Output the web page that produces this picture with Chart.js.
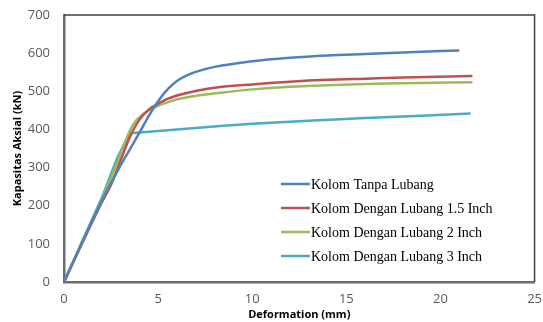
<!DOCTYPE html>
<html>
<head>
<meta charset="utf-8">
<script src="https://cdn.jsdelivr.net/npm/chart.js@4/dist/chart.umd.min.js"></script>
<style>
  html, body { margin: 0; padding: 0; background: #fff; }
  #wrap { width: 543px; height: 322px; }
</style>
</head>
<body>
<div id="wrap"><canvas id="chart" width="543" height="322"></canvas></div>
<script>
// Deformation (mm) and axial capacity (kN)
const seriesNames = ['Kolom Tanpa Lubang', 'Kolom Dengan Lubang 1.5 Inch', 'Kolom Dengan Lubang 2 Inch', 'Kolom Dengan Lubang 3 Inch'];
const colors = ['#4F81BD', '#C0504D', '#9BBB59', '#4BACC6'];

const tanpaX = [0, 1, 2, 3, 3.5, 4, 4.5, 5, 5.5, 6, 6.5, 7, 8, 10, 12, 14, 16, 18, 21];
const tanpaY = [0, 108, 212, 305, 348, 391, 435, 474, 505, 527, 541, 551, 564, 579, 588, 594, 598, 602, 607];

const lubang15X = [0, 1, 2, 2.5, 3, 3.5, 4, 4.5, 5, 5.5, 6, 7, 8.3, 10, 12, 14, 16, 18, 21.7];
const lubang15Y = [0, 105, 208, 255, 318, 380, 425, 452, 467, 480, 489, 501, 511, 518, 525, 530, 533, 536, 540];

const lubang2X = [0, 1, 2, 3, 3.2, 3.7, 4.2, 4.5, 5, 5.5, 6, 7, 8.3, 10, 12, 14, 16, 18, 21.7];
const lubang2Y = [0, 110, 215, 335, 362, 415, 440, 450, 462, 471, 479, 488, 496, 505, 512, 516, 519, 521, 524];

const lubang3X = [0, 1, 2, 2.8, 3.2, 3.55, 5, 8.3, 10, 13, 16, 19, 21.6];
const lubang3Y = [0, 110, 220, 322, 362, 390, 396, 409, 415, 423, 430, 436, 442];

const xTicks = [0, 5, 10, 15, 20, 25];
const yTicks = [0, 100, 200, 300, 400, 500, 600, 700];

const allX = [tanpaX, lubang15X, lubang2X, lubang3X];
const allY = [tanpaY, lubang15Y, lubang2Y, lubang3Y];

const datasets = seriesNames.map((name, i) => ({
  label: name,
  data: allX[i].map((x, j) => ({ x: x, y: allY[i][j] })),
  borderColor: colors[i],
  backgroundColor: colors[i],
  borderWidth: 2.5,
  pointRadius: 0,
  showLine: true,
  // the 3 inch column has a sharp knee, the others bend smoothly
  cubicInterpolationMode: i === 3 ? 'default' : 'monotone',
  tension: 0,
  fill: false
}));

// box around the plot area (top and right edges)
const boxPlugin = {
  id: 'box',
  afterDraw(chart) {
    const { ctx, chartArea: a } = chart;
    ctx.save();
    ctx.strokeStyle = '#404040';
    ctx.lineWidth = 1.5;
    ctx.beginPath();
    ctx.moveTo(a.left, a.top);
    ctx.lineTo(a.right, a.top);
    ctx.lineTo(a.right, a.bottom);
    ctx.stroke();
    ctx.restore();
  }
};

// legend drawn inside the plot area
const innerLegend = {
  id: 'innerLegend',
  afterDraw(chart) {
    const { ctx } = chart;
    ctx.save();
    ctx.font = '14px "Liberation Serif", "Times New Roman", serif';
    ctx.textBaseline = 'middle';
    ctx.fillStyle = '#000';
    seriesNames.forEach((name, i) => {
      const y = 184 + i * 24;
      ctx.strokeStyle = colors[i];
      ctx.lineWidth = 2.5;
      ctx.beginPath();
      ctx.moveTo(281, y);
      ctx.lineTo(310, y);
      ctx.stroke();
      ctx.fillText(name, 311, y + 1);
    });
    ctx.restore();
  }
};

const tickFont = { family: '"Open Sans", sans-serif', size: 13 };
const titleFont = { family: '"Open Sans", sans-serif', size: 11, weight: 'bold' };

new Chart(document.getElementById('chart').getContext('2d'), {
  type: 'scatter',
  data: { datasets: datasets },
  options: {
    responsive: false,
    animation: false,
    layout: { padding: { left: 11, top: 15, right: 8, bottom: 0 } },
    plugins: {
      legend: { display: false },
      tooltip: { enabled: false }
    },
    scales: {
      x: {
        type: 'linear',
        min: xTicks[0],
        max: xTicks[xTicks.length - 1],
        afterBuildTicks: s => { s.ticks = xTicks.map(v => ({ value: v })); },
        afterFit: s => { s.height = 40; },
        grid: { display: false },
        border: { display: true, color: '#6d6d6d', width: 2.5 },
        ticks: { color: '#595959', font: tickFont, padding: 1 },
        title: { display: true, text: 'Deformation (mm)', color: '#000', font: titleFont, padding: { top: 0, bottom: 1 } }
      },
      y: {
        type: 'linear',
        min: yTicks[0],
        max: yTicks[yTicks.length - 1],
        afterBuildTicks: s => { s.ticks = yTicks.map(v => ({ value: v })); },
        afterFit: s => { s.width = 53; },
        grid: { display: false },
        border: { display: true, color: '#6d6d6d', width: 2.5 },
        ticks: { color: '#595959', font: tickFont, padding: 6 },
        title: { display: true, text: 'Kapasitas Aksial (kN)', color: '#000', font: titleFont, padding: { top: 0, bottom: 2 } }
      }
    }
  },
  plugins: [boxPlugin, innerLegend]
});
</script>
</body>
</html>
